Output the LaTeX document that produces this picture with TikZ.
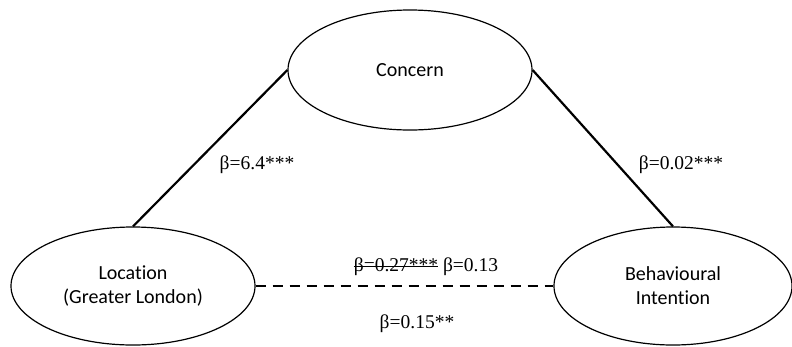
\documentclass[tikz,border=0pt]{standalone}
\usepackage{fontspec}
\setmainfont{Liberation Serif}
\newfontfamily\calib[Ligatures=NoCommon]{Carlito}
\usetikzlibrary{shapes.geometric}
\newsavebox\strkbox
\newcommand\mystrike[1]{\sbox\strkbox{#1}\rlap{\rule[0.25em]{\wd\strkbox}{0.07em}}\usebox\strkbox}
\tikzset{
  construct/.style={draw, ellipse, line width=1.2pt, inner sep=0pt,
    font=\calib\fontsize{20}{24}\selectfont, align=center},
  path/.style={line width=2.2pt},
  dpath/.style={line width=2.5pt, dash pattern=on 10pt off 7pt},
  coef/.style={font=\fontsize{19.5}{23}\selectfont, inner sep=0pt}
}
\begin{document}
\begin{tikzpicture}[x=1pt,y=-1pt]
\useasboundingbox (0,0) rectangle (792,346);
\node[construct, minimum width=244pt, minimum height=120pt] (con) at (410,70) {Concern};
\node[construct, minimum width=244pt, minimum height=118pt] (loc) at (133,286) {Location\\(Greater London)};
\node[construct, minimum width=238pt, minimum height=118pt] (beh) at (673,286) {Behavioural\\Intention};
\draw[path] (loc.north) -- (con.west);
\draw[path] (beh.north) -- (con.east);
\draw[dpath] (loc.east) -- (beh.west);
\node[coef] (l1) at (257,165) {β=6.4***};
\node[coef] (l2) at (681,165) {β=0.02***};
\node[coef] (l3) at (426,267) {\mystrike{β=0.27***} β=0.13};
\node[coef] (l4) at (417,324) {β=0.15**};
\end{tikzpicture}
\end{document}
